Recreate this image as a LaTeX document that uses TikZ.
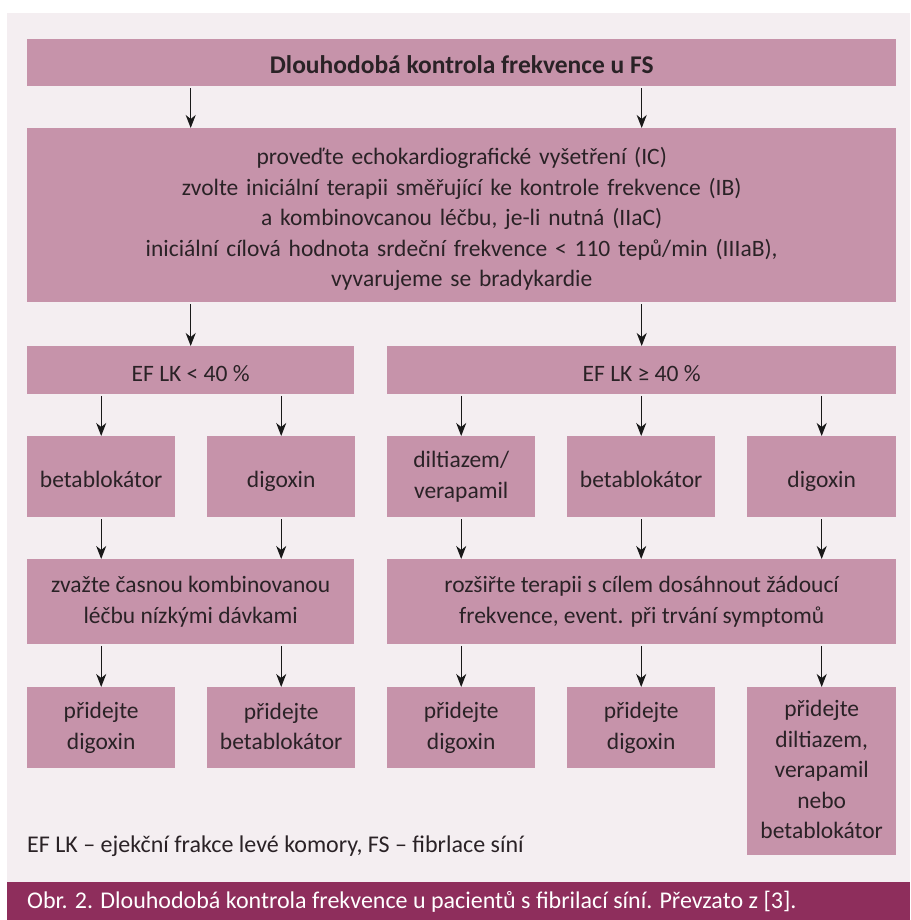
\documentclass[tikz,border=0pt]{standalone}
\usepackage{fontspec}
\setmainfont{Carlito}
\usetikzlibrary{arrows.meta}
\definecolor{panelbg}{HTML}{F4EEF1}
\definecolor{boxc}{HTML}{C693AA}
\definecolor{capbar}{HTML}{8E2E5C}
\definecolor{txt}{HTML}{2A2226}
\newcommand\topstrut{\rule{0pt}{25pt}}
\newcommand\botstrut{\rule[-3pt]{0pt}{3pt}}
\begin{document}
\begin{tikzpicture}[x=1pt,y=-1pt,
  box/.style={fill=boxc, inner sep=0pt, align=center, text=txt, anchor=north west,
    font=\fontsize{23.5}{30.5}\selectfont,
    execute at begin node=\topstrut, execute at end node=\botstrut},
  arr/.style={-{Stealth[length=13pt,width=10pt,inset=4pt]}, line width=1.3pt, draw=black!90, shorten <=2pt}]
\fill[white] (0,0) rectangle (910,920);
\useasboundingbox (0,0) rectangle (910,920);
\fill[panelbg] (7,13) rectangle (910,882);
\fill[capbar] (7,882) rectangle (910,920);

\node[box, minimum width=869pt, minimum height=47pt, font=\fontsize{25.5}{30.5}\selectfont] (title) at (27,39) {\bfseries Dlouhodobá kontrola frekvence u FS};
\node[box, minimum width=869pt, minimum height=174pt, text width=840pt] (main) at (27,128)
 {proveďte echokardiografické vyšetření (IC)\\
  zvolte iniciální terapii směřující ke kontrole frekvence (IB)\\
  a kombinovcanou léčbu, je-li nutná (IIaC)\\
  iniciální cílová hodnota srdeční frekvence < 110 tepů/min (IIIaB),\\
  vyvarujeme se bradykardie};
\node[box, minimum width=327pt, minimum height=48pt] (ef1) at (27,346) {EF LK < 40 \%};
\node[box, minimum width=509pt, minimum height=48pt] (ef2) at (387,346) {EF LK ≥ 40 \%};

\node[box, minimum width=148pt, minimum height=81pt] (c1) at (27,436) {betablokátor};
\node[box, minimum width=148pt, minimum height=81pt] (c2) at (207,436) {digoxin};
\node[box, minimum width=148pt, minimum height=81pt] (c3) at (387,436) {diltiazem/\\verapamil};
\node[box, minimum width=148pt, minimum height=81pt] (c4) at (567,436) {betablokátor};
\node[box, minimum width=149pt, minimum height=81pt] (c5) at (747,436) {digoxin};

\node[box, minimum width=327pt, minimum height=85pt] (z1) at (27,559) {zvažte časnou kombinovanou\\léčbu nízkými dávkami};
\node[box, minimum width=509pt, minimum height=85pt] (z2) at (387,559) {rozšiřte terapii s cílem dosáhnout žádoucí\\frekvence, event. při trvání symptomů};

\node[box, minimum width=148pt, minimum height=81pt] (d1) at (27,687) {přidejte\\digoxin};
\node[box, minimum width=148pt, minimum height=81pt] (d2) at (207,687) {přidejte\\betablokátor};
\node[box, minimum width=148pt, minimum height=81pt] (d3) at (387,687) {přidejte\\digoxin};
\node[box, minimum width=148pt, minimum height=81pt] (d4) at (567,687) {přidejte\\digoxin};
\node[box, minimum width=149pt, minimum height=168pt] (d5) at (747,687) {přidejte\\diltiazem,\\verapamil\\nebo\\betablokátor};

\draw[arr] (title.south -| ef1) -- (main.north -| ef1);
\draw[arr] (title.south -| ef2) -- (main.north -| ef2);
\draw[arr] (main.south -| ef1) -- (ef1.north);
\draw[arr] (main.south -| ef2) -- (ef2.north);
\draw[arr] (ef1.south -| c1) -- (c1.north);
\draw[arr] (ef1.south -| c2) -- (c2.north);
\draw[arr] (ef2.south -| c3) -- (c3.north);
\draw[arr] (ef2.south -| c4) -- (c4.north);
\draw[arr] (ef2.south -| c5) -- (c5.north);
\draw[arr] (c1.south) -- (c1.south |- z1.north);
\draw[arr] (c2.south) -- (c2.south |- z1.north);
\draw[arr] (c3.south) -- (c3.south |- z2.north);
\draw[arr] (c4.south) -- (c4.south |- z2.north);
\draw[arr] (c5.south) -- (c5.south |- z2.north);
\draw[arr] (z1.south -| d1) -- (d1.north);
\draw[arr] (z1.south -| d2) -- (d2.north);
\draw[arr] (z2.south -| d3) -- (d3.north);
\draw[arr] (z2.south -| d4) -- (d4.north);
\draw[arr] (z2.south -| d5) -- (d5.north);

\node[anchor=west, inner sep=0pt, text=txt, font=\fontsize{24}{25}\selectfont] (fn) at (27,846)
 {EF LK – ejekční frakce levé komory, FS – fibrlace síní};
\node[anchor=west, inner sep=0pt, text=white, font=\fontsize{24}{26}\selectfont] (cap) at (27,902)
 {Obr. 2. Dlouhodobá kontrola frekvence u pacientů s fibrilací síní. Převzato z [3].};
\end{tikzpicture}
\end{document}
